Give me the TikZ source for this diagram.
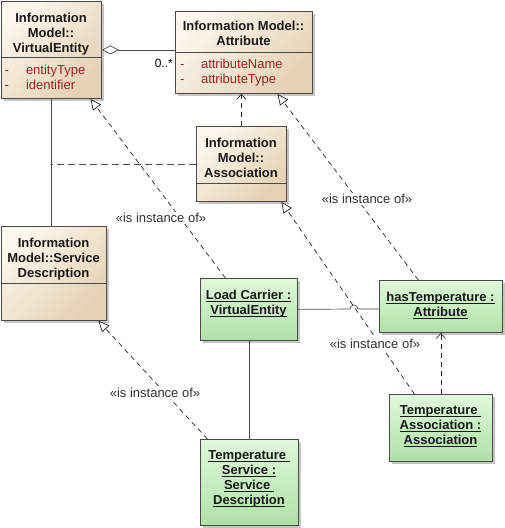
\documentclass[tikz,border=0pt]{standalone}
\usepackage{fontspec}
\setmainfont{Liberation Sans}
\usepackage{xcolor}
\usetikzlibrary{positioning}
\usetikzlibrary{arrows.meta}
\usetikzlibrary{shadows}
\newcommand{\undl}[1]{\setbox0\hbox{#1}\rlap{\vrule width\wd0 height -1.6pt depth 2.4pt}\box0}
\definecolor{beigelight}{HTML}{FCF6EC}
\definecolor{beigedark}{HTML}{E5D1B4}
\definecolor{greenlight}{HTML}{E0F8DB}
\definecolor{greendark}{HTML}{AFE2A6}
\definecolor{boxline}{HTML}{4A4A4A}
\definecolor{attrred}{HTML}{9A2222}
\tikzset{
	classbox/.style={draw=boxline, line width=0.8pt, anchor=north west, inner sep=0pt,
		top color=beigelight, bottom color=beigedark, shading angle=45,
		drop shadow={shadow xshift=2.5pt, shadow yshift=-2.5pt, fill=black!45, opacity=0.5}},
	objbox/.style={classbox, top color=greenlight, bottom color=greendark},
	headtext/.style={font=\fontsize{13pt}{15pt}\selectfont\bfseries, align=center, anchor=north, inner sep=0pt, text=black!90},
	attrtext/.style={font=\fontsize{13pt}{15pt}\selectfont, text=attrred, anchor=base west, inner sep=0pt},
	instlabel/.style={font=\fontsize{13pt}{15pt}\selectfont, fill=white, inner sep=1pt, text=black!80},
	sepline/.style={draw=boxline, line width=0.8pt},
	solidlink/.style={draw=boxline, line width=0.7pt},
	instof/.style={draw=black!85, line width=0.7pt, dash pattern=on 5pt off 4pt,
		-{Triangle[open, fill=white, length=11pt, width=10pt]}},
	deplink/.style={draw=black!85, line width=0.7pt, dash pattern=on 5pt off 4pt,
		-{Straight Barb[length=5pt, width=9pt]}},
}

\begin{document}
\begin{tikzpicture}[x=1pt, y=-1pt]
		\useasboundingbox (0,0) rectangle (505,528);
		% information model classes
		\node[classbox, minimum width=100pt, minimum height=97pt] (ve) at (1,1) {};
		\node[classbox, minimum width=137pt, minimum height=82pt] (attr) at (175,11) {};
		\node[classbox, minimum width=90pt, minimum height=75pt] (assoc) at (196,126) {};
		\node[classbox, minimum width=105pt, minimum height=94pt] (sd) at (1,226) {};
		\draw[sepline] ([yshift=-56pt]ve.north west) -- ([yshift=-56pt]ve.north east);
		\draw[sepline] ([yshift=-41pt]attr.north west) -- ([yshift=-41pt]attr.north east);
		\draw[sepline] ([yshift=-57pt]assoc.north west) -- ([yshift=-57pt]assoc.north east);
		\draw[sepline] ([yshift=-57pt]sd.north west) -- ([yshift=-57pt]sd.north east);
		\node[headtext] (vehead) at (51,12.5) {Information\\Model::\\VirtualEntity};
		\node[headtext] (attrhead) at (243.5,20.5) {Information Model::\\Attribute};
		\node[headtext] (assochead) at (241,137.5) {Information\\Model::\\Association};
		\node[headtext] (sdhead) at (53.5,237.5) {Information\\Model::Service\\Description};
		\node[attrtext] (veattr) at (4.5,74) {\begin{tabular}[t]{@{}l@{\hspace{17pt}}l@{}}-&entityType\\-&identifier\end{tabular}};
		\node[attrtext] (attrattr) at (180,68) {\begin{tabular}[t]{@{}l@{\hspace{16.5pt}}l@{}}-&attributeName\\-&attributeType\end{tabular}};
		% instances
		\node[objbox, minimum width=97pt, minimum height=62pt] (lc) at (200,278) {};
		\node[objbox, minimum width=123pt, minimum height=52pt] (ht) at (379,280) {};
		\node[objbox, minimum width=103pt, minimum height=67pt] (ta) at (389,394) {};
		\node[objbox, minimum width=98pt, minimum height=86pt] (ts) at (200,439) {};
		\node[headtext] (lchead) at (248.5,289.5) {\undl{Load Carrier :}\\\undl{VirtualEntity}};
		\node[headtext] (hthead) at (440.5,291.5) {\undl{hasTemperature :}\\\undl{Attribute}};
		\node[headtext] (tahead) at (440.5,405.5) {\undl{Temperature\ }\\\undl{Association :}\\\undl{Association}};
		\node[headtext] (tshead) at (249,450.5) {\undl{Temperature\ }\\\undl{Service :}\\\undl{Service\ }\\\undl{Description}};
		% links between classes
		\draw[solidlink] (ve.south) -- (ve.south |- sd.north);
		\draw[solidlink, dash pattern=on 7pt off 4pt] (assoc.west) -- (assoc.west -| ve.south);
		\draw[solidlink, {Diamond[open, fill=white, length=17pt, width=9pt]}-] (ve.east) -- (ve.east -| attr.west);
		\node[font=\fontsize{12pt}{14pt}\selectfont, anchor=base east, inner sep=0pt] (mult) at (173,67) {0..*};
		\draw[deplink] (assoc.north) -- (assoc.north |- attr.south);
		% links between instances
		\coordinate (hop) at (354,309);
		\draw[solidlink] (lc.east) -- ([xshift=-4pt]hop) arc[start angle=180, end angle=0, radius=4pt] -- (hop -| ht.west);
		\draw[solidlink] (lc.south) -- (lc.south |- ts.north);
		\draw[deplink] (ta.north) -- (ht.south);
		% instance of
		\draw[instof] ([xshift=-23.5pt]lc.north) -- ([xshift=39pt]ve.south);
		\draw[instof] ([xshift=-22.5pt]ht.north) -- ([xshift=33.5pt]attr.south);
		\draw[instof] ([xshift=-26.5pt]ta.north) -- ([xshift=40pt]assoc.south);
		\draw[instof] ([xshift=-42pt]ts.north) -- ([xshift=44.5pt]sd.south);
		\node[instlabel] (lcinst) at (161,218) {«is instance of»};
		\node[instlabel] (htinst) at (367,199) {«is instance of»};
		\node[instlabel] (tainst) at (375,344) {«is instance of»};
		\node[instlabel] (tsinst) at (155,393) {«is instance of»};
	\end{tikzpicture}
\end{document}
